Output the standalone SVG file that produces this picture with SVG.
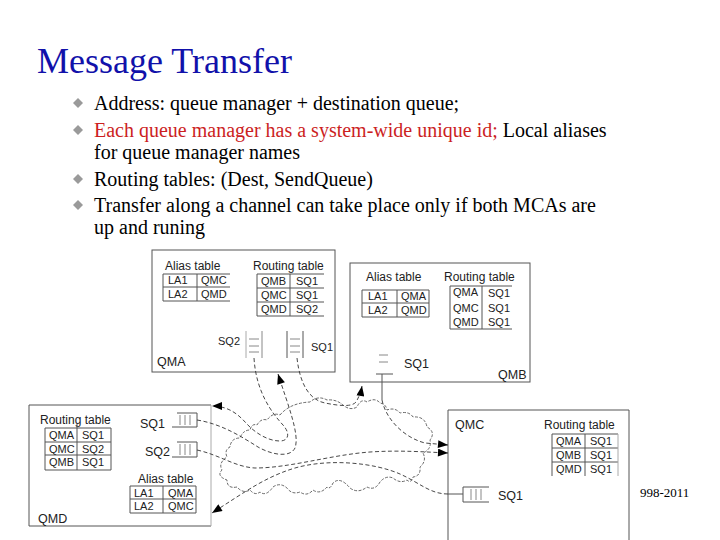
<svg xmlns="http://www.w3.org/2000/svg" width="720" height="540" viewBox="0 0 720 540">
<defs>
<style>
.title{font-family:"Liberation Serif","Times New Roman",serif;font-size:36px;fill:#1111aa}
.b{font-family:"Liberation Serif","Times New Roman",serif;font-size:20px;fill:#000}
.red{fill:#cc1f1f}
.bul{fill:#9a9a9a}
.box{fill:none;stroke:#555;stroke-width:1}
.h{font-family:"Liberation Sans",Arial,sans-serif;font-size:12px;fill:#222}
.c{font-family:"Liberation Sans",Arial,sans-serif;font-size:11px;fill:#222}
.lbl{font-family:"Liberation Sans",Arial,sans-serif;font-size:12.5px;fill:#222}
.g{stroke:#555;stroke-width:1;fill:none}
.lg{stroke:#aaa;stroke-width:1;fill:none}
.q{stroke:#888;stroke-width:1;fill:none}
.cn{fill:none;stroke:#333;stroke-width:0.9;stroke-dasharray:4 2.5}
.cl{fill:none;stroke:#444;stroke-width:0.8;stroke-dasharray:3 1.5}
.sl{fill:none;stroke:#555;stroke-width:1}
.foot{font-family:"Liberation Serif","Times New Roman",serif;font-size:13px;fill:#000}
</style>
<marker id="ah" viewBox="0 0 10 8" refX="10" refY="4" markerWidth="11" markerHeight="8" markerUnits="userSpaceOnUse" orient="auto">
<path d="M0,0 L10,4 L0,8 Z" fill="#000"/>
</marker>
</defs>
<rect width="720" height="540" fill="#fff"/>

<text class="title" x="37" y="73">Message Transfer</text>

<g id="bullets">
<path class="bul" d="M78,98 L83,103 L78,108 L73,103 Z"/>
<path class="bul" d="M78,125 L83,130 L78,135 L73,130 Z"/>
<path class="bul" d="M78,174 L83,179 L78,184 L73,179 Z"/>
<path class="bul" d="M78,200 L83,205 L78,210 L73,205 Z"/>
<text class="b" x="94" y="110">Address: queue manager + destination queue;</text>
<text class="b" x="94" y="137"><tspan class="red">Each queue manager has a system-wide unique id;</tspan> Local aliases</text>
<text class="b" x="94" y="159">for queue manager names</text>
<text class="b" x="94" y="186">Routing tables: (Dest, SendQueue)</text>
<text class="b" x="94" y="212">Transfer along a channel can take place only if both MCAs are</text>
<text class="b" x="94" y="234">up and runing</text>
</g>

<g id="cloud">
<path class="cl" d="M280,415 Q290,403 310,402 Q318,395 327,400 Q336,399 343,405 Q350,411 357,407 Q361,398 367,402 Q375,397 380,403 Q386,404 387,410 Q395,407 400,413 Q409,411 413,417 Q425,416 427,427 Q436,432 430,440 Q432,449 423,453 Q427,461 420,467 Q421,476 413,477 Q411,484 407,480 Q400,484 393,478 Q386,475 380,482 Q375,491 367,487 Q358,494 350,488 Q340,476 333,483 Q330,490 327,487 Q320,495 313,490 Q307,497 300,492 Q292,495 287,488 Q280,482 273,487 Q266,497 260,492 Q255,496 250,490 Q243,494 237,487 Q227,489 227,480 Q216,476 222,470 Q218,463 227,457 Q224,450 230,447 Q231,438 240,438 Q243,430 250,430 Q252,423 257,425 Q261,418 267,420 Q273,412 280,415 Z"/>
</g>

<g id="QMA">
<rect class="box" x="152" y="250" width="183" height="122"/>
<text class="h" x="165" y="270">Alias table</text>
<path class="g" d="M163,274 H230 M163,287 H230 M163,301 H230 M163,274 V301 M197,274 V301"/>
<text class="c" x="168" y="284">LA1</text><text class="c" x="201" y="284">QMC</text>
<text class="c" x="168" y="298">LA2</text><text class="c" x="201" y="298">QMD</text>
<text class="h" x="253" y="270">Routing table</text>
<path class="g" d="M257,274 H324 M257,288 H324 M257,302 H324 M257,316 H324 M257,274 V316 M290,274 V316"/>
<text class="c" x="261" y="285">QMB</text><text class="c" x="296" y="285">SQ1</text>
<text class="c" x="261" y="299">QMC</text><text class="c" x="296" y="299">SQ1</text>
<text class="c" x="261" y="313">QMD</text><text class="c" x="296" y="313">SQ2</text>
<text class="c" x="218" y="345">SQ2</text>
<path class="lg" d="M246,331 V358"/><path class="q" d="M262,331 V358 M249,339 H259 M249,346 H259 M249,352 H259"/>
<path class="g" d="M287,331 V358 M303,331 V358"/><path class="q" d="M290,339 H300 M290,346 H300 M290,352 H300"/>
<text class="c" x="311" y="351">SQ1</text>
<text class="lbl" x="157" y="366">QMA</text>
</g>

<g id="QMB">
<rect class="box" x="350" y="263" width="180" height="119"/>
<text class="h" x="366" y="281">Alias table</text>
<path class="g" d="M362,290 H429 M362,303 H429 M362,317 H429 M362,290 V317 M397,290 V317 M429,290 V317"/>
<text class="c" x="368" y="300">LA1</text><text class="c" x="401" y="300">QMA</text>
<text class="c" x="368" y="314">LA2</text><text class="c" x="401" y="314">QMD</text>
<text class="h" x="444" y="281">Routing table</text>
<path class="g" d="M450,286 H512 M450,329 H512 M450,286 V329 M482,286 V329"/>
<text class="c" x="453" y="296">QMA</text><text class="c" x="488" y="297">SQ1</text>
<text class="c" x="453" y="312">QMC</text><text class="c" x="488" y="312">SQ1</text>
<text class="c" x="453" y="326">QMD</text><text class="c" x="488" y="326">SQ1</text>
<path class="q" d="M379,355 H388 M379,362 H388"/><path class="g" d="M376,374 H393"/>
<text class="lbl" x="404" y="368">SQ1</text>
<text class="lbl" x="498" y="379">QMB</text>
</g>

<g id="QMD">
<path class="box" d="M211,405 H29 V526 H211"/>
<path class="lg" d="M211,405 V526"/>
<text class="h" x="40" y="424">Routing table</text>
<path class="g" d="M45,428 H111 M45,442 H111 M45,455 H111 M45,470 H111 M45,428 V470 M77,424 V470 M111,428 V470"/>
<text class="c" x="49" y="439">QMA</text><text class="c" x="82" y="439">SQ1</text>
<text class="c" x="49" y="453">QMC</text><text class="c" x="82" y="453">SQ2</text>
<text class="c" x="49" y="466">QMB</text><text class="c" x="82" y="466">SQ1</text>
<text class="lbl" x="140" y="428">SQ1</text>
<path class="g" d="M172,427 H197 V413 H177"/><path class="q" d="M180,415 V425 M185,415 V425 M190,415 V425"/>
<text class="lbl" x="145" y="456">SQ2</text>
<path class="g" d="M172,457 H197 V442 H177"/><path class="q" d="M180,444 V455 M185,444 V455 M190,444 V455"/>
<text class="h" x="138" y="483">Alias table</text>
<path class="g" d="M130,486 H196 M130,499 H196 M130,513 H196 M130,486 V513 M163,486 V513 M196,486 V513"/>
<text class="c" x="134" y="497">LA1</text><text class="c" x="168" y="497">QMA</text>
<text class="c" x="134" y="510">LA2</text><text class="c" x="168" y="510">QMC</text>
<text class="lbl" x="38" y="523">QMD</text>
</g>

<g id="QMC">
<path class="box" d="M448,545 V410 H629 V545"/>
<text class="lbl" x="455" y="429">QMC</text>
<text class="h" x="544" y="429">Routing table</text>
<path class="g" d="M552,434 H618 M552,448 H618 M552,462 H618 M552,434 V476 M585,434 V476"/><path class="lg" d="M618,434 V476"/>
<text class="c" x="556" y="445">QMA</text><text class="c" x="590" y="445">SQ1</text>
<text class="c" x="556" y="459">QMB</text><text class="c" x="590" y="459">SQ1</text>
<text class="c" x="556" y="473">QMD</text><text class="c" x="590" y="473">SQ1</text>
<path class="g" d="M463,487 V502 H489 M463,487 H489"/><path class="q" d="M471,489 V500 M476,489 V500 M481,489 V500"/>
<text class="lbl" x="498" y="500">SQ1</text>
</g>

<g id="connectors">
<path class="cn" d="M297,358 C300,385 310,400 325,403 C340,406 352,407 356,402 C359,397 361,392 362,386" marker-end="url(#ah)"/>
<path class="cn" d="M254,358 C256,392 272,413 283,425 C291,434 288,441 280,441 C268,441 255,433 246,423 C238,414 228,406 212,406" marker-end="url(#ah)"/>
<path class="cn" d="M197,420 C222,424 242,437 258,447 C272,455 290,458 295,448 C300,435 288,405 278,374" marker-end="url(#ah)"/>
<path class="cn" d="M197,450 C220,455 235,467 255,468 C290,468 330,455 370,452 C400,450 425,452 448,453" marker-end="url(#ah)"/>
<path class="sl" d="M382,374 V400"/>
<path class="cn" d="M382,400 C386,420 405,438 425,443 L448,445" marker-end="url(#ah)"/>
<path class="sl" d="M463,494 H448"/>
<path class="cn" d="M448,494 C430,494 420,483 400,474 C375,463 330,458 295,468 C265,477 245,492 212,513" marker-end="url(#ah)"/>
</g>

<text class="foot" x="640" y="497">998-2011</text>
</svg>
